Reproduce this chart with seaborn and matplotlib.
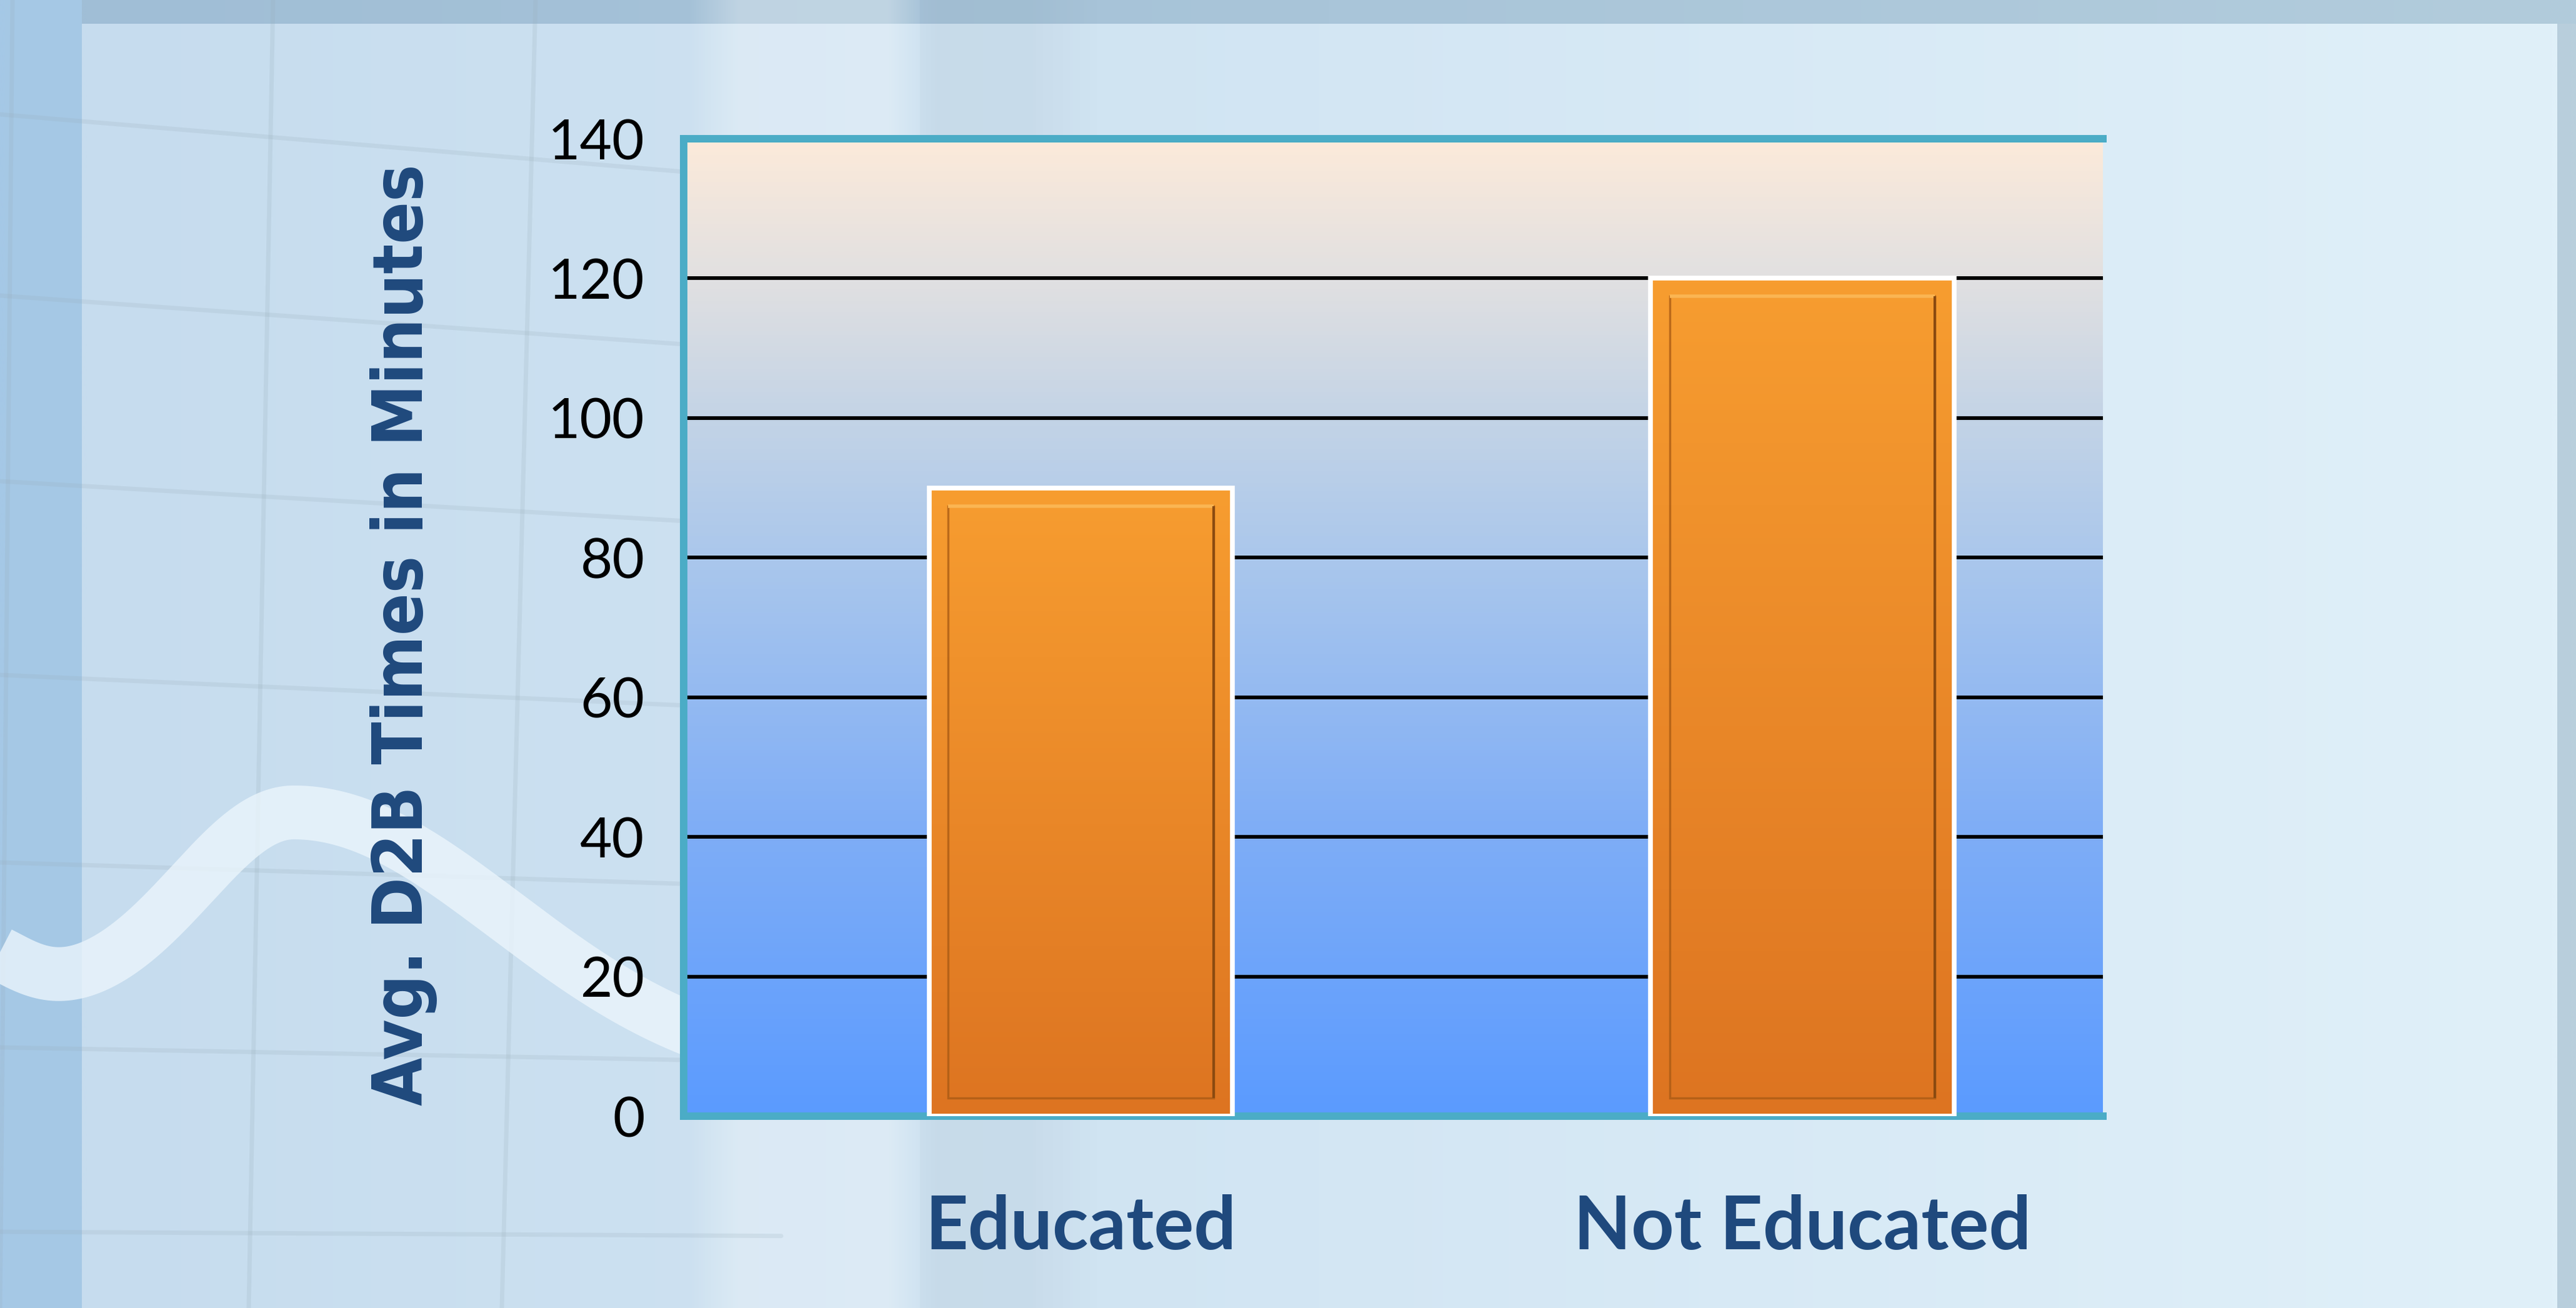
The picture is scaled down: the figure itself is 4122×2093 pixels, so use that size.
import numpy as np
import matplotlib.pyplot as plt
from matplotlib.colors import LinearSegmentedColormap
from matplotlib.patches import Rectangle
import seaborn as sns

# data
categories = ["Educated", "Not Educated"]
avg_minutes = [90, 120]
y_ticks = [0, 20, 40, 60, 80, 100, 120, 140]
y_label = "Avg. D2B Times in Minutes"

W, H = 4122, 2093
NAVY = "#1F497D"
TEAL = "#4BACC6"

sns.set_theme(style="white")
plt.rcParams["font.family"] = ["Lato", "DejaVu Sans"]

fig = plt.figure(figsize=(W / 100, H / 100), dpi=100)

# ---- slide background (pixel coords) ----
bg = fig.add_axes([0, 0, 1, 1], zorder=-10)
bg.set_xlim(0, W)
bg.set_ylim(H, 0)
bg.axis("off")


def hgrad(c0, c1, n=256):
    t = np.linspace(0, 1, n)[None, :, None]
    c0 = np.array(c0)[None, None, :] / 255
    c1 = np.array(c1)[None, None, :] / 255
    return np.repeat(c0 + (c1 - c0) * t, 2, axis=0)


bg.imshow(hgrad((165, 200, 230), (185, 207, 220)), extent=(0, W, H, 0),
          aspect="auto", interpolation="bilinear", zorder=0)
# darker top band
bg.imshow(hgrad((160, 190, 214), (178, 204, 220)), extent=(131, W, 38, 0),
          aspect="auto", interpolation="bilinear", zorder=0.5)
# lighter panel
bg.imshow(hgrad((198, 220, 238), (224, 240, 249)), extent=(131, 4092, H, 38),
          aspect="auto", interpolation="bilinear", zorder=1)

# soft vertical light / dark stripes
sx = np.arange(W)
light = np.interp(sx, [1100, 1180, 1420, 1480], [0, 0.3, 0.3, 0])
dark = np.interp(sx, [1440, 1500, 1650, 1760], [0, 0.08, 0.08, 0])
stripe = np.zeros((2, W, 4))
stripe[..., :3] = np.where((light > dark)[None, :, None], 1.0,
                           np.array([0.45, 0.52, 0.58])[None, None, :])
stripe[..., 3] = np.maximum(light, dark)[None, :]
bg.imshow(stripe, extent=(0, W, H, 0), aspect="auto", zorder=1.5)

# faint perspective grid of the slide
gcol = (0.60, 0.68, 0.73)
for y0 in [183, 473, 770, 1080, 1380, 1676, 1971]:
    s = 0.092 * (1 - y0 / H)
    bg.plot([0, 1250], [y0, y0 + s * 1250], color=gcol, alpha=0.2, lw=5, zorder=2)
for xt, xb in [(20, 0), (437, 398), (857, 803)]:
    bg.plot([xt, xb], [0, H], color=gcol, alpha=0.2, lw=5, zorder=2)

# white wave
wx = np.linspace(-80, 1120, 500)
right = wx >= 470
wy = np.where(right,
              1720 - 420 * np.exp(-((wx - 470) / 480) ** 2),
              1590 - 290 * np.exp(-((wx - 470) / 230) ** 2)
              - 80 * np.exp(-((wx + 60) / 110) ** 2))
bg.plot(wx, wy, color=(0.92, 0.96, 0.99), alpha=0.8, lw=62, zorder=4,
        solid_capstyle="butt")

# ---- chart ----
ax = fig.add_axes([1094 / W, 1 - 1786 / H, (3365 - 1094) / W, (1786 - 222) / H])
xlim = (-0.55, 1.4165)
ylim = (0, 140)

plot_cmap = LinearSegmentedColormap.from_list("plotbg", [
    (0.00, (91 / 255, 155 / 255, 255 / 255)),
    (0.30, (128 / 255, 174 / 255, 246 / 255)),
    (0.57, (170 / 255, 199 / 255, 236 / 255)),
    (0.72, (196 / 255, 212 / 255, 230 / 255)),
    (0.86, (225 / 255, 224 / 255, 225 / 255)),
    (1.00, (252 / 255, 234 / 255, 218 / 255)),
])
ax.imshow(np.linspace(1, 0, 256)[:, None], cmap=plot_cmap, vmin=0, vmax=1,
          extent=(*xlim, *ylim), aspect="auto", interpolation="bicubic", zorder=0)

sns.barplot(x=categories, y=avg_minutes, ax=ax, color="#F28C28", saturation=1,
            width=0.42, edgecolor="white", linewidth=5.5, zorder=3)

bar_cmap = LinearSegmentedColormap.from_list("bar", ["#DD7421", "#F79D30"])
for p in ax.patches:
    x, w, h = p.get_x(), p.get_width(), p.get_height()
    im = ax.imshow(np.linspace(1, 0, 256)[:, None], cmap=bar_cmap,
                   extent=(x, x + w, 0, h), aspect="auto", zorder=2.9,
                   interpolation="bicubic")
    im.set_clip_path(p)
    p.set_facecolor((0, 0, 0, 0))
    # inner bevel
    dx, dy = 0.026, 2.6
    ax.add_patch(Rectangle((x + dx, dy), w - 2 * dx, h - 2 * dy, fill=False,
                           edgecolor="#A85A14", lw=2.5, alpha=0.75, zorder=3.2))
    ax.plot([x + dx, x + w - dx], [h - dy, h - dy], color="#FBB552", lw=4,
            zorder=3.3, solid_capstyle="butt")
    ax.plot([x + w - dx, x + w - dx], [dy, h - dy], color="#8A4A10", lw=3,
            zorder=3.3, solid_capstyle="butt")

ax.set_xlim(*xlim)
ax.set_ylim(*ylim)
ax.set_axisbelow(True)
ax.yaxis.grid(True, color="black", lw=4.3)
ax.xaxis.grid(False)

ax.set_yticks(y_ticks)
ax.set_xticks(range(len(categories)), categories, fontweight="bold", color=NAVY)
ax.tick_params(axis="y", labelsize=64, pad=45, length=0, labelcolor="black")
ax.tick_params(axis="x", labelsize=86, pad=90, length=0)
ax.set_xlabel("")
ax.set_ylabel("")

for side in ["left", "top", "bottom"]:
    ax.spines[side].set_visible(True)
    ax.spines[side].set_color(TEAL)
    ax.spines[side].set_linewidth(8.6)
ax.spines["right"].set_visible(False)

fig.text(646 / W, 1 - 1016 / H, y_label, rotation=90, ha="center", va="center",
         fontsize=80, fontweight="bold", color=NAVY, family="DejaVu Sans",
         fontstretch="condensed")

fig.savefig("out.png", dpi=100)
